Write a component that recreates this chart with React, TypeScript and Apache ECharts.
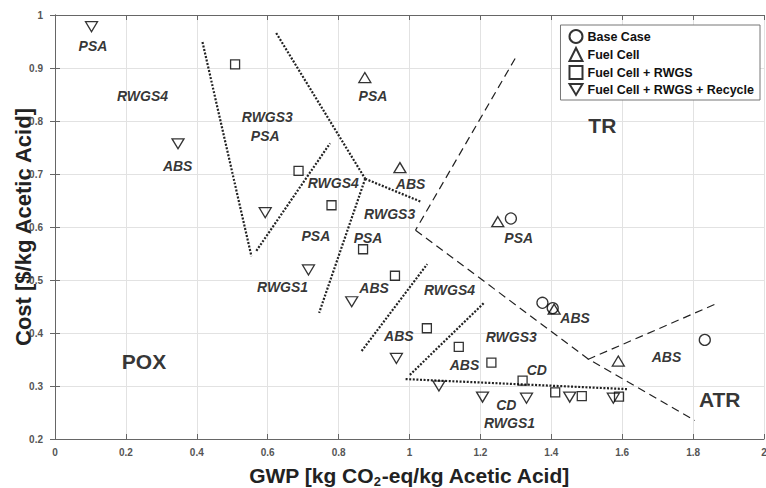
import React, { useEffect, useRef } from "react";
import * as echarts from "echarts";

const FONT = '"Liberation Sans", Arial, Helvetica, sans-serif';

// Scatter series: [GWP, Cost]
const baseCase: number[][] = [
  [1.286, 0.616], [1.375, 0.457], [1.404, 0.447], [1.833, 0.387],
];
const fuelCell: number[][] = [
  [0.874, 0.882], [0.973, 0.712], [1.249, 0.61], [1.408, 0.445], [1.589, 0.347],
];
const fuelCellRwgs: number[][] = [
  [0.508, 0.907], [0.687, 0.706], [0.78, 0.641], [0.869, 0.558], [0.959, 0.508],
  [1.049, 0.409], [1.139, 0.374], [1.231, 0.344], [1.319, 0.31], [1.411, 0.288],
  [1.486, 0.281], [1.591, 0.28],
];
const fuelCellRwgsRecycle: number[][] = [
  [0.103, 0.978], [0.347, 0.757], [0.593, 0.627], [0.715, 0.519], [0.837, 0.459],
  [0.963, 0.352], [1.083, 0.3], [1.206, 0.279], [1.33, 0.277], [1.452, 0.279],
  [1.575, 0.277],
];

// Boundary lines (each: end points)
const dottedLines: number[][][] = [
  [[0.416, 0.949], [0.554, 0.545]],
  [[0.568, 0.555], [0.776, 0.758]],
  [[0.624, 0.966], [0.875, 0.691]],
  [[0.875, 0.691], [0.745, 0.438]],
  [[0.875, 0.691], [1.031, 0.648]],
  [[0.865, 0.366], [1.05, 0.53]],
  [[1.001, 0.321], [1.212, 0.458]],
  [[0.989, 0.313], [1.617, 0.294]],
];
const dashedLines: number[][][] = [
  [[1.298, 0.918], [1.017, 0.594]],
  [[1.017, 0.594], [1.504, 0.351], [1.805, 0.235]],
  [[1.503, 0.35], [1.868, 0.456]],
];

// Italic annotations: [x, y, text]
const annotations: [number, number, string][] = [
  [0.107, 0.942, "PSA"],
  [0.247, 0.847, "RWGS4"],
  [0.346, 0.715, "ABS"],
  [0.599, 0.808, "RWGS3"],
  [0.593, 0.772, "PSA"],
  [0.897, 0.847, "PSA"],
  [0.785, 0.683, "RWGS4"],
  [1.003, 0.681, "ABS"],
  [0.944, 0.624, "RWGS3"],
  [0.736, 0.583, "PSA"],
  [0.883, 0.58, "PSA"],
  [0.642, 0.486, "RWGS1"],
  [0.9, 0.484, "ABS"],
  [1.308, 0.579, "PSA"],
  [1.467, 0.428, "ABS"],
  [1.113, 0.481, "RWGS4"],
  [0.97, 0.394, "ABS"],
  [1.287, 0.392, "RWGS3"],
  [1.155, 0.34, "ABS"],
  [1.359, 0.33, "CD"],
  [1.273, 0.264, "CD"],
  [1.282, 0.231, "RWGS1"],
  [1.725, 0.354, "ABS"],
];

// Region labels
const regions: [number, number, string][] = [
  [1.544, 0.791, "TR"],
  [0.251, 0.347, "POX"],
  [1.875, 0.275, "ATR"],
];

const seriesNames = [
  "Base Case",
  "Fuel Cell",
  "Fuel Cell + RWGS",
  "Fuel Cell + RWGS + Recycle",
];

const X_MIN = 0, X_MAX = 2, X_STEP = 0.2;
const Y_MIN = 0.2, Y_MAX = 1, Y_STEP = 0.1;

export default function App() {
  const ref = useRef<HTMLDivElement>(null);

  useEffect(() => {
    if (!ref.current) return;
    const chart = echarts.init(ref.current, null, { renderer: "svg" });

    const markerStyle = {
      color: "rgba(0,0,0,0)",
      borderColor: "#000",
      borderWidth: 1.3,
    };

    const lineSeries: any[] = [];
    dottedLines.forEach((pts) =>
      lineSeries.push({
        type: "line",
        data: pts,
        symbol: "none",
        silent: true,
        z: 1,
        lineStyle: { color: "#222", width: 2.2, type: [2, 1.6] },
      })
    );
    dashedLines.forEach((pts) =>
      lineSeries.push({
        type: "line",
        data: pts,
        symbol: "none",
        silent: true,
        z: 1,
        lineStyle: { color: "#222", width: 1.2, type: [8, 5] },
      })
    );

    const axisCommon = {
      type: "value" as const,
      axisLine: { show: true, lineStyle: { color: "#666", width: 1 } },
      axisTick: { show: true, inside: true, length: 5, lineStyle: { color: "#666" } },
    };

    chart.setOption({
      animation: false,
      backgroundColor: "#fff",
      grid: {
        left: 55,
        right: 2,
        top: 15,
        bottom: 49,
        containLabel: false,
        outerBoundsMode: "none",
      },
      legend: {
        data: seriesNames,
        orient: "vertical",
        right: 6,
        top: 25,
        padding: [4, 6, 4, 8],
        itemGap: 3,
        itemWidth: 13,
        itemHeight: 13,
        backgroundColor: "#fff",
        borderColor: "#777",
        borderWidth: 1,
        textStyle: {
          fontFamily: FONT,
          fontWeight: "bold",
          fontSize: 12.5,
          color: "#111",
        },
      },
      xAxis: [
        {
          ...axisCommon,
          min: X_MIN,
          max: X_MAX,
          interval: X_STEP,
          position: "bottom",
          splitLine: { show: true, lineStyle: { color: "#e2e2e2", width: 1 } },
          axisLabel: {
            fontFamily: FONT,
            fontWeight: "bold",
            fontSize: 10,
            color: "#555",
            margin: 8,
          },
          name: "{a|GWP [kg CO}{s|2}{a|-eq/kg Acetic Acid]}",
          nameLocation: "middle",
          nameGap: 26,
          nameMoveOverlap: false,
          nameTextStyle: {
            rich: {
              a: { fontFamily: FONT, fontWeight: "bold", fontSize: 21, color: "#222", lineHeight: 21, verticalAlign: "top" },
              s: { fontFamily: FONT, fontWeight: "bold", fontSize: 13, color: "#222", lineHeight: 12, verticalAlign: "top", padding: [10, 0, 0, 0] },
            },
          },
        },
        {
          ...axisCommon,
          min: X_MIN,
          max: X_MAX,
          interval: X_STEP,
          position: "top",
          splitLine: { show: false },
          axisLabel: { show: false },
        },
      ],
      yAxis: [
        {
          ...axisCommon,
          min: Y_MIN,
          max: Y_MAX,
          interval: Y_STEP,
          position: "left",
          splitLine: { show: true, lineStyle: { color: "#e2e2e2", width: 1 } },
          axisLabel: {
            fontFamily: FONT,
            fontWeight: "bold",
            fontSize: 10,
            color: "#555",
            margin: 12,
          },
          name: "Cost [$/kg Acetic Acid]",
          nameLocation: "middle",
          nameGap: 21,
          nameMoveOverlap: false,
          nameTextStyle: {
            fontFamily: FONT,
            fontWeight: "bold",
            fontSize: 22,
            color: "#222",
          },
        },
        {
          ...axisCommon,
          min: Y_MIN,
          max: Y_MAX,
          interval: Y_STEP,
          position: "right",
          splitLine: { show: false },
          axisLabel: { show: false },
        },
      ],
      series: [
        ...lineSeries,
        {
          name: seriesNames[0],
          type: "scatter",
          data: baseCase,
          symbol: "circle",
          symbolSize: 11,
          itemStyle: markerStyle,
          z: 5,
        },
        {
          name: seriesNames[1],
          type: "scatter",
          data: fuelCell,
          symbol: "triangle",
          symbolSize: [12, 10],
          itemStyle: markerStyle,
          z: 5,
        },
        {
          name: seriesNames[2],
          type: "scatter",
          data: fuelCellRwgs,
          symbol: "rect",
          symbolSize: 9,
          itemStyle: markerStyle,
          z: 5,
        },
        {
          name: seriesNames[3],
          type: "scatter",
          data: fuelCellRwgsRecycle,
          symbol: "path://M0,0L12,0L6,10Z",
          symbolSize: [12, 10],
          itemStyle: markerStyle,
          z: 5,
        },
        {
          type: "scatter",
          silent: true,
          data: annotations.map(([x, y, t]) => ({ value: [x, y], name: t })),
          symbolSize: 1,
          itemStyle: { color: "rgba(0,0,0,0)" },
          z: 6,
          label: {
            show: true,
            position: "inside",
            formatter: "{b}",
            fontFamily: FONT,
            fontWeight: "bold",
            fontStyle: "italic",
            fontSize: 14,
            color: "#000",
          },
        },
        {
          type: "scatter",
          silent: true,
          data: regions.map(([x, y, t]) => ({ value: [x, y], name: t })),
          symbolSize: 1,
          itemStyle: { color: "rgba(0,0,0,0)" },
          z: 6,
          label: {
            show: true,
            position: "inside",
            formatter: "{b}",
            fontFamily: FONT,
            fontWeight: "bold",
            fontSize: 21,
            color: "#000",
          },
        },
      ],
    });

    return () => chart.dispose();
  }, []);

  return (
    <div
      ref={ref}
      style={{ position: "fixed", left: 0, top: 0, width: 766, height: 488 }}
    />
  );
}
